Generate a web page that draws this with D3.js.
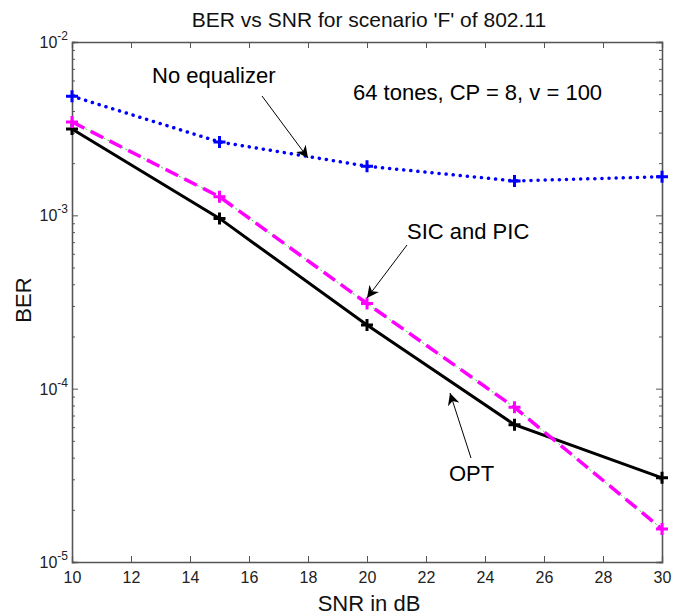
<!DOCTYPE html>
<html>
<head>
<meta charset="utf-8">
<script src="https://cdn.jsdelivr.net/npm/d3@7"></script>
<style>
  body { margin: 0; background: #fff; }
  text { font-family: Arial, "Liberation Sans", sans-serif; }
</style>
</head>
<body>
<div id="chart"></div>
<script>
// data
const snr = [10, 15, 20, 25, 30];
const berNoEq = [4.87e-3, 2.65e-3, 1.92e-3, 1.58e-3, 1.67e-3];
const berSicPic = [3.46e-3, 1.28e-3, 3.1e-4, 7.8e-5, 1.55e-5];
const berOpt = [3.15e-3, 9.6e-4, 2.33e-4, 6.2e-5, 3.06e-5];
const xTicks = [10, 12, 14, 16, 18, 20, 22, 24, 26, 28, 30];
const yDecades = [1e-5, 1e-4, 1e-3, 1e-2];

const W = 690, H = 616;
const m = {left: 72, right: 28, top: 42, bottom: 54};

const svg = d3.select("#chart").append("svg")
    .attr("width", W).attr("height", H);

const x = d3.scaleLinear().domain([10, 30]).range([m.left, W - m.right]);
const y = d3.scaleLog().domain([1e-5, 1e-2]).range([H - m.bottom, m.top]);

// minor ticks 2..9 in each decade
var minor = [];
yDecades.slice(0, 3).forEach(d => { for (var k = 2; k < 10; k++) minor.push(d * k); });

const axisColor = "#555";

// axes with inward ticks
const gx = svg.append("g").attr("transform", `translate(0,${H - m.bottom})`)
    .call(d3.axisBottom(x).tickValues(xTicks).tickSize(-6).tickPadding(10).tickFormat(d3.format("d")));
const gxTop = svg.append("g").attr("transform", `translate(0,${m.top})`)
    .call(d3.axisTop(x).tickValues(xTicks).tickSize(-6).tickFormat(""));
const gy = svg.append("g").attr("transform", `translate(${m.left},0)`)
    .call(d3.axisLeft(y).tickValues(yDecades).tickSize(-6).tickFormat(""));
const gyMinor = svg.append("g").attr("transform", `translate(${m.left},0)`)
    .call(d3.axisLeft(y).tickValues(minor).tickSize(-3).tickFormat(""));
const gyR = svg.append("g").attr("transform", `translate(${W - m.right},0)`)
    .call(d3.axisRight(y).tickValues(yDecades).tickSize(-6).tickFormat(""));
const gyRMinor = svg.append("g").attr("transform", `translate(${W - m.right},0)`)
    .call(d3.axisRight(y).tickValues(minor).tickSize(-3).tickFormat(""));

[gx, gxTop, gy, gyMinor, gyR, gyRMinor].forEach(g => {
    g.select(".domain").attr("stroke", axisColor).attr("stroke-width", 1.3);
    g.selectAll(".tick line").attr("stroke", axisColor);
    g.selectAll("text").attr("fill", "#222").style("font-size", "16px")
        .style("font-family", "Arial, 'Liberation Sans', sans-serif");
});

// y labels as 10^-n
yDecades.forEach(d => {
    var t = svg.append("text").attr("x", m.left - 4).attr("y", y(d) + 6)
        .attr("text-anchor", "end").attr("fill", "#222").style("font-size", "16px");
    t.append("tspan").text("10");
    t.append("tspan").attr("dy", -8).style("font-size", "12px").text(Math.round(Math.log10(d)));
});

// title and axis labels
svg.append("text").attr("x", 369).attr("y", 27).attr("text-anchor", "middle")
    .style("font-size", "21px").attr("fill", "#111").text("BER vs SNR for scenario 'F' of 802.11");
svg.append("text").attr("x", 369).attr("y", 611).attr("text-anchor", "middle")
    .style("font-size", "22px").attr("fill", "#111").text("SNR in dB");
svg.append("text").attr("transform", "translate(31,300) rotate(-90)").attr("text-anchor", "middle")
    .style("font-size", "22px").attr("fill", "#111").text("BER");

const line = d3.line().x((d, i) => x(snr[i])).y(d => y(d));

function crosses(data, color) {
    const s = 6;
    svg.append("g").selectAll("path").data(data).join("path")
        .attr("d", (d, i) => {
            var cx = x(snr[i]), cy = y(d);
            return `M${cx - s},${cy}H${cx + s}M${cx},${cy - s}V${cy + s}`;
        })
        .attr("stroke", color).attr("stroke-width", 3).attr("fill", "none");
}

// no equalizer: blue dotted
svg.append("path").datum(berNoEq).attr("d", line)
    .attr("fill", "none").attr("stroke", "#0000ff").attr("stroke-width", 3.5)
    .attr("stroke-linecap", "round").attr("stroke-dasharray", "0.1 7");
crosses(berNoEq, "#0000ff");

// OPT: black solid
svg.append("path").datum(berOpt).attr("d", line)
    .attr("fill", "none").attr("stroke", "#000").attr("stroke-width", 3);
crosses(berOpt, "#000");

// SIC and PIC: thin green dash-dot under magenta dashes
svg.append("path").datum(berSicPic).attr("d", line)
    .attr("fill", "none").attr("stroke", "#33dd33").attr("stroke-width", 1)
    .attr("stroke-dasharray", "2 3");
svg.append("path").datum(berSicPic).attr("d", line)
    .attr("fill", "none").attr("stroke", "#ff00ff").attr("stroke-width", 3.5)
    .attr("stroke-dasharray", "14 7");
crosses(berSicPic, "#ff00ff");

// annotations
svg.append("defs").append("marker").attr("id", "arr")
    .attr("viewBox", "0 0 10 10").attr("refX", 10).attr("refY", 5)
    .attr("markerWidth", 12).attr("markerHeight", 12).attr("markerUnits", "userSpaceOnUse")
    .attr("orient", "auto")
    .append("path").attr("d", "M0,0L10,5L0,10L3,5Z").attr("fill", "#000");

function note(txt, tx, ty, x1, y1, x2, y2) {
    svg.append("text").attr("x", tx).attr("y", ty).style("font-size", "22px")
        .attr("fill", "#000").text(txt);
    if (x1 != null)
        svg.append("line").attr("x1", x1).attr("y1", y1).attr("x2", x2).attr("y2", y2)
            .attr("stroke", "#000").attr("stroke-width", 1).attr("marker-end", "url(#arr)");
}
note("No equalizer", 152, 83, 262, 96, 308, 158);
note("64 tones, CP = 8, v = 100", 353, 100);
note("SIC and PIC", 407, 239, 407, 245, 367, 298);
note("OPT", 449, 481, 471, 458, 450, 393);
</script>
</body>
</html>
